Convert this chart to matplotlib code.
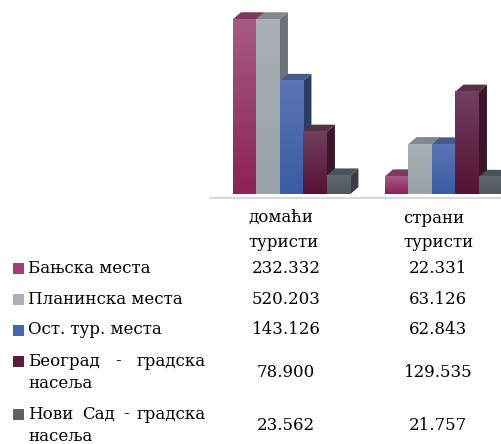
import numpy as np
import matplotlib
matplotlib.use("Agg")
import matplotlib.pyplot as plt
from matplotlib.colors import LinearSegmentedColormap
from matplotlib.patches import Polygon, Rectangle

# data
series = ["Бањска места", "Планинска места", "Ост. тур. места",
          "Београд - градска насеља", "Нови Сад - градска насеља"]
label_lines = [["Бањска места"], ["Планинска места"], ["Ост. тур. места"],
               ["Београд - градска", "насеља"], ["Нови Сад - градска", "насеља"]]
groups = ["домаћи\nтуристи", "страни\nтуристи"]
domaci = [232332, 520203, 143126, 78900, 23562]
strani = [22331, 63126, 62843, 129535, 21757]

# colours: front top, front bottom, side, cap, legend
colors = [
    ("#A85A82", "#8C2258", "#6A2045", "#7C3A5C", "#A83C72"),
    ("#A9B0B7", "#98A1A9", "#6C7277", "#80878D", "#A9B0B8"),
    ("#5A76B4", "#3A5CA4", "#2C3E68", "#485A8A", "#4466AA"),
    ("#704060", "#561234", "#3A1628", "#5A3045", "#5C1A3C"),
    ("#5F6870", "#4F5860", "#383E44", "#4A5259", "#5A6168"),
]

W, H = 502, 444
fig = plt.figure(figsize=(W / 100, H / 100), dpi=100)

# bar area
ax = fig.add_axes([209 / W, 1 - 199 / H, (W - 209) / W, (199 - 5) / H])
ax.axis("off")

ymax = 221000      # bars taller than this are cut off
dx, dy = 0.34, 8800
group_x = [0.0, 6.47]
grad = np.linspace(0, 1, 64).reshape(-1, 1)

ax.axhline(-5000, color="#D9D9D9", lw=1.6, zorder=0)

for g, vals in enumerate([domaci, strani]):
    for i, v in enumerate(vals):
        h = min(v, ymax)
        x0 = group_x[g] + i
        x1 = x0 + 1
        top_c, bot_c, side_c, cap_c, _ = colors[i]
        z = 2 + i * 3
        cmap = LinearSegmentedColormap.from_list("f", [bot_c, top_c])
        ax.imshow(grad, extent=(x0, x1, 0, h), origin="lower", cmap=cmap,
                  aspect="auto", zorder=z + 2, interpolation="bilinear")
        ax.add_patch(Polygon([(x1, 0), (x1 + dx, dy), (x1 + dx, h + dy), (x1, h)],
                             closed=True, fc=side_c, ec="none", zorder=z))
        ax.add_patch(Polygon([(x0, h), (x0 + dx, h + dy), (x1 + dx, h + dy), (x1, h)],
                             closed=True, fc=cap_c, ec="none", zorder=z + 1))
ax.set_xlim(-1.02, 11.45)
ax.set_ylim(-6300, 239000)

# data table
font = dict(family="DejaVu Serif", fontsize=12, color="black")


def fx(px):
    return px / W


def fy(py):
    return 1 - py / H


header_x = [248, 403]
value_x = [286, 438]
for g, name in enumerate(groups):
    for k, line in enumerate(name.split("\n")):
        fig.text(fx(header_x[g]), fy(218 + k * 24), line, ha="left", va="center", **font)

renderer = fig.canvas.get_renderer()
left, right = 28, 206
y = 268
for i, lines in enumerate(label_lines):
    fig.patches.append(Rectangle((fx(13), fy(y + 5.5)), 11 / W, 11 / H,
                                 transform=fig.transFigure, fc=colors[i][4], ec="none"))
    for k, line in enumerate(lines):
        ly = y + k * 22
        if len(lines) > 1 and k < len(lines) - 1:
            # justified line
            words = line.split(" ")
            txts = [fig.text(0, fy(ly), w, ha="left", va="center", **font) for w in words]
            widths = [t.get_window_extent(renderer).width for t in txts]
            gap = (right - left - sum(widths)) / (len(words) - 1)
            pos = left
            for t, wdt in zip(txts, widths):
                t.set_x(fx(pos))
                pos += wdt + gap
        else:
            fig.text(fx(left), fy(ly), line, ha="left", va="center", **font)
    vy = y + (len(lines) - 1) * 11
    for g, vals in enumerate([domaci, strani]):
        fig.text(fx(value_x[g]), fy(vy), f"{vals[i]:,}".replace(",", "."),
                 ha="center", va="center", **font)
    y += 31 + (len(lines) - 1) * 22

fig.savefig("out.png", dpi=100)
